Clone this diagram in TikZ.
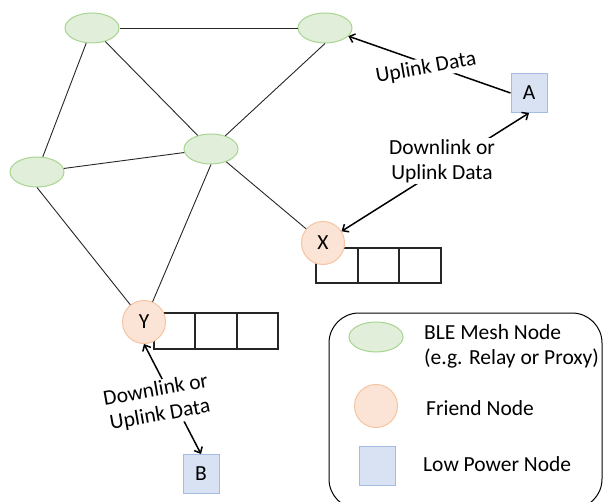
\documentclass[tikz,border=0pt]{standalone}
\usepackage{fontspec}
\setmainfont{Carlito}
\usetikzlibrary{arrows.meta,shapes.geometric}
\definecolor{meshfill}{RGB}{225,239,218}
\definecolor{meshline}{RGB}{168,212,146}
\definecolor{friendfill}{RGB}{251,228,213}
\definecolor{friendline}{RGB}{245,196,162}
\definecolor{lpnfill}{RGB}{217,226,243}
\definecolor{lpnline}{RGB}{164,188,226}
\tikzset{
  mesh/.style={ellipse, draw=meshline, fill=meshfill, line width=1pt,
    minimum width=54pt, minimum height=30pt, inner sep=0pt},
  friend/.style={circle, draw=friendline, fill=friendfill, line width=1pt,
    minimum size=43pt, inner sep=0pt},
  lpn/.style={rectangle, draw=lpnline, fill=lpnfill, line width=1pt,
    minimum width=36pt, minimum height=39pt, inner sep=0pt},
  link/.style={draw=black!85, line width=0.9pt},
  queue/.style={draw=black!85, line width=1.2pt},
  msg/.style={draw=black, line width=1.5pt,
    {Straight Barb[length=5pt,width=9pt]}-{Straight Barb[length=5pt,width=9pt]}},
  upmsg/.style={draw=black, line width=1.5pt, -{Straight Barb[length=5pt,width=9pt]}},
  tag/.style={fill=white, inner sep=1pt, align=center},
  legendtext/.style={anchor=west, align=left, inner sep=0pt}
}
\begin{document}
\begin{tikzpicture}[x=1pt, y=-1pt, font=\fontsize{21.5}{25}\selectfont]
\clip (0,0) rectangle (604,502);

% message queues held by the friend nodes
\draw[queue] (316,248) rectangle (441,283);
\draw[queue] (358,248) -- (358,283) (399,248) -- (399,283);
\draw[queue] (154,313) rectangle (278,349);
\draw[queue] (195,313) -- (195,349) (237,313) -- (237,349);

% mesh nodes
\node[mesh] (m1) at (92,28) {};
\node[mesh] (m2) at (325,28) {};
\node[mesh] (m3) at (211,149) {};
\node[mesh] (m4) at (37,172) {};

% friend nodes
\node[friend] (x) at (323,243) {X};
\node[friend] (y) at (144,322) {Y};

% low power nodes
\node[lpn] (a) at (529,93) {A};
\node[lpn] (b) at (201,474) {B};

% mesh links
\draw[link] (m1) -- (m2);
\draw[link] (m1) -- (m4);
\draw[link] (m1) -- (m3);
\draw[link] (m2.south) -- (m3);
\draw[link] (m4) -- (m3);
\draw[link] (m4.south) -- (y);
\draw[link] (m3.south) -- (y);
\draw[link] (m3) -- (x);

% low power traffic
\draw[upmsg] (a.west) -- (m2);
\draw[msg] (a.south) -- (x);
\draw[msg] (y.south) -- (b.north);

\node[tag, rotate=10] (t1) at (426,68) {Uplink Data};
\node[tag] (t2) at (442,161) {Downlink or\\Uplink Data};
\node[tag, rotate=10] (t3) at (158,403) {Downlink or\\Uplink Data};

% legend
\draw[line width=1pt, rounded corners=30pt] (329,313) rectangle (602,509);
\node[mesh] (lm) at (376,337) {};
\node[friend] (lf) at (376,406) {};
\node[lpn] (ll) at (377,466) {};
\node[legendtext] (lmt) at (424,346) {BLE Mesh Node\\(e.g. Relay or Proxy)};
\node[legendtext] (lft) at (426,408) {Friend Node};
\node[legendtext] (llt) at (423,464) {Low Power Node};
\end{tikzpicture}
\end{document}
